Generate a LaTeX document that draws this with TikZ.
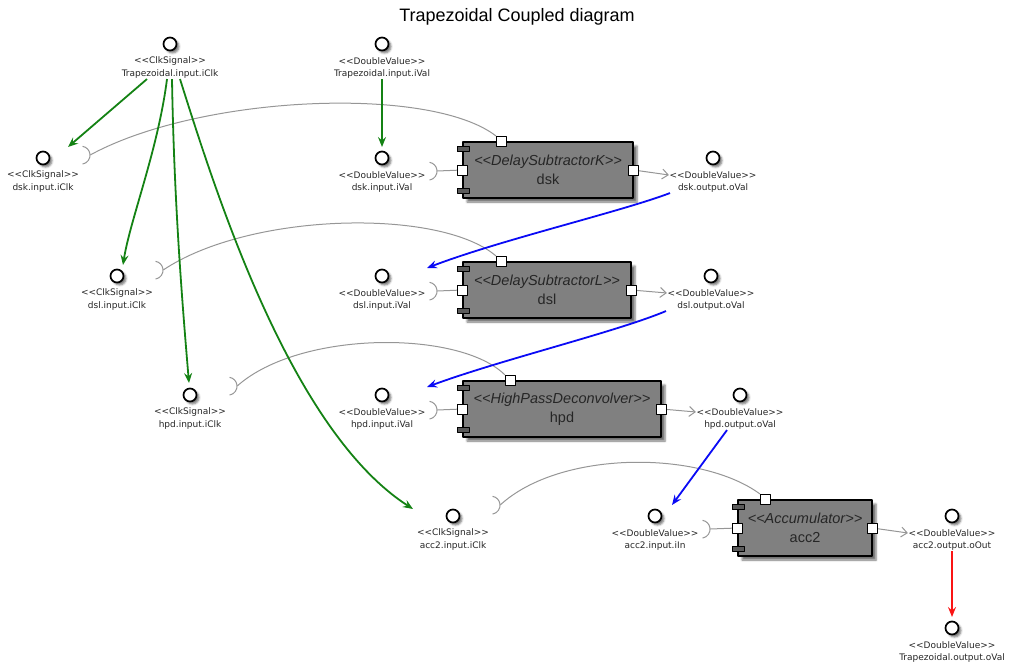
\documentclass[tikz,border=0pt]{standalone}
\usepackage{fontspec}
\setmainfont{Liberation Sans}
\newfontfamily\portfont{DejaVu Sans}
\usetikzlibrary{arrows.meta,shadows.blur}
\newcommand{\stereo}[1]{<\kern0pt<#1>\kern0pt>}
\definecolor{linkgreen}{RGB}{20,130,20}
\definecolor{linkblue}{RGB}{10,10,245}
\definecolor{linkred}{RGB}{250,20,20}
\definecolor{wiregray}{RGB}{150,150,150}
\definecolor{compgray}{RGB}{128,128,128}
\begin{document}
\begin{tikzpicture}[x=1pt,y=-1pt,line join=round]
		\useasboundingbox (0,0) rectangle (1014,666);
		
		\tikzstyle{iface}=[circle,draw=black,line width=1.7pt,fill=white,minimum size=13pt,inner sep=0pt,
			blur shadow={shadow xshift=2.5pt,shadow yshift=-2.5pt,shadow blur radius=2pt,shadow opacity=55}]
		\tikzstyle{stereo}=[font=\portfont\fontsize{9}{10}\selectfont,inner sep=0.5pt,text=black!85]
		\tikzstyle{lbl}=[stereo]
		\tikzstyle{comp}=[rectangle,draw=black,line width=1.3pt,fill=compgray,minimum height=56pt,
			align=center,font=\fontsize{14.5}{19}\selectfont,text=black!85,
			blur shadow={shadow xshift=4pt,shadow yshift=-4pt,shadow blur radius=2pt,shadow opacity=55}]
		\tikzstyle{port}=[rectangle,draw=black,line width=0.8pt,fill=white,minimum size=10pt,inner sep=0pt]
		\tikzstyle{tab}=[rectangle,draw=black,line width=0.8pt,fill=compgray!70!black,minimum width=12pt,minimum height=5pt,inner sep=0pt]
		\tikzstyle{socket}=[circle,minimum size=18pt,inner sep=0pt]
		\tikzstyle{wire}=[draw=wiregray,line width=1pt]
		\tikzstyle{flow}=[line width=1.8pt,-{Stealth[length=10pt,width=8pt,inset=3.5pt]}]
		
		% Title
		\node[font=\fontsize{18}{20}\selectfont] (title) at (517,17) {Trapezoidal Coupled diagram};
		
		% Draw the components
		\foreach \name/\x/\y/\w/\kind/\tp in {dsk/548/170/170/DelaySubtractorK/39,
			dsl/547/290/168/DelaySubtractorL/39, hpd/562/409/198/HighPassDeconvolver/48,
			acc2/805/528/134/Accumulator/28}
		{
			\node[comp,minimum width=\w pt] (\name) at (\x,\y) {{\itshape\stereo{\kind}}\\\name};
			\node[tab] (\name-t1) at ([xshift=1pt,yshift=-8pt]\name.north west) {};
			\node[tab] (\name-t2) at ([xshift=1pt,yshift=8pt]\name.south west) {};
			\node[port] (\name-pl) at (\name.west) {};
			\node[port] (\name-pr) at (\name.east) {};
			\node[port] (\name-pt) at ([xshift=\tp pt]\name.north west) {};
		}
		
		% Draw the interfaces
		\foreach \name/\x/\y/\kind/\txt in {tin-clk/170/44/ClkSignal/Trapezoidal.input.iClk,
			tin-val/382/44/DoubleValue/Trapezoidal.input.iVal,
			dsk-clk/43/158/ClkSignal/dsk.input.iClk, dsk-in/382/158/DoubleValue/dsk.input.iVal,
			dsk-out/713/158/DoubleValue/dsk.output.oVal,
			dsl-clk/117/276/ClkSignal/dsl.input.iClk, dsl-in/382/276/DoubleValue/dsl.input.iVal,
			dsl-out/711/276/DoubleValue/dsl.output.oVal,
			hpd-clk/190/395/ClkSignal/hpd.input.iClk, hpd-in/382/395/DoubleValue/hpd.input.iVal,
			hpd-out/740/395/DoubleValue/hpd.output.oVal,
			acc2-clk/453/516/ClkSignal/acc2.input.iClk, acc2-in/655/516/DoubleValue/acc2.input.iIn,
			acc2-out/952/516/DoubleValue/acc2.output.oOut,
			tout-val/952/628/DoubleValue/Trapezoidal.output.oVal}
		{
			\node[iface] (\name) at (\x,\y) {};
			\node[stereo] (\name-st) at (\x,\y+17) {\stereo{\kind}};
			\node[lbl] (\name-lb) at (\x,\y+30) {\txt};
		}
		
		% Draw the sockets
		\foreach \name/\x/\y in {dsk-cs/81/155, dsl-cs/154/270, hpd-cs/228/386, acc2-cs/491/505,
			dsk-vs/428/171, dsl-vs/428/291, hpd-vs/428/410, acc2-vs/701/529}
		{
			\node[socket] (\name) at (\x,\y) {};
			\draw[wire] (\name.-80) arc[start angle=-80,end angle=80,radius=9pt];
		}
		
		% Connect value ports and outputs
		\foreach \c in {dsk,dsl,hpd,acc2}
		{
			\draw[wire] (\c-pl) -- (\c-vs.east);
			\draw[wire,-{Straight Barb[length=6pt,width=10pt]}] (\c-pr) -- (\c-out-st.west);
		}
		
		% Clock ports to their sockets
		\draw[wire] (dsk-pt.north west) .. controls (430,85) and (200,95) .. (dsk-cs.east);
		\draw[wire] (dsl-pt.north west) .. controls (440,208) and (250,212) .. (dsl-cs.east);
		\draw[wire] (hpd-pt.north west) .. controls (460,330) and (300,330) .. (hpd-cs.east);
		\draw[wire] (acc2-pt.north west) .. controls (700,450) and (560,450) .. (acc2-cs.east);
		
		% Clock distribution
		\draw[flow,linkgreen] ([xshift=-23pt]tin-clk-lb.south) -- ([shift={(25,-11)}]dsk-clk.center);
		\draw[flow,linkgreen] ([xshift=-3pt]tin-clk-lb.south) .. controls (158,150) and (130,220) .. ([shift={(6,-11)}]dsl-clk.center);
		\draw[flow,linkgreen] ([xshift=2pt]tin-clk-lb.south) .. controls (174,200) and (182,300) .. ([shift={(-1,-12)}]hpd-clk.center);
		\draw[flow,linkgreen] ([xshift=10pt]tin-clk-lb.south) .. controls (215,190) and (290,430) .. ([shift={(-40,-7)}]acc2-clk.center);
		\draw[flow,linkgreen] (tin-val-lb.south) -- ([shift={(0,-11)}]dsk-in.center);
		
		% Value chain
		\draw[flow,linkblue] ([xshift=-43pt]dsk-out-lb.south) .. controls (620,212) and (500,240) .. ([shift={(45,-8)}]dsl-in.center);
		\draw[flow,linkblue] ([xshift=-45pt]dsl-out-lb.south) .. controls (616,332) and (500,360) .. ([shift={(45,-8)}]hpd-in.center);
		\draw[flow,linkblue] ([xshift=-13pt]hpd-out-lb.south) -- ([shift={(17,-11)}]acc2-in.center);
		\draw[flow,linkred] (acc2-out-lb.south) -- ([shift={(0,-11)}]tout-val.center);
	\end{tikzpicture}
\end{document}
